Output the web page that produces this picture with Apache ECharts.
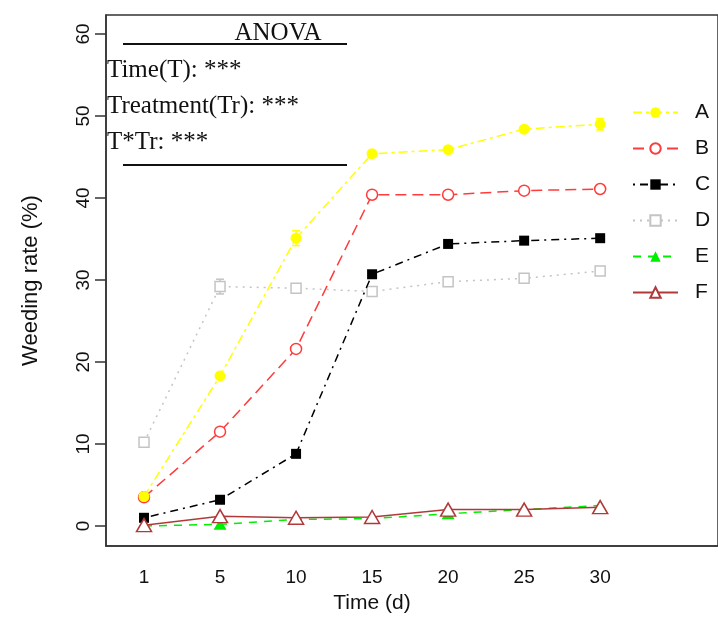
<!DOCTYPE html>
<html>
<head>
<meta charset="utf-8">
<script src="https://cdn.jsdelivr.net/npm/echarts@6/dist/echarts.min.js"></script>
<style>
  html, body { margin: 0; padding: 0; background: #fff; }
  #chart { width: 718px; height: 621px; }
</style>
</head>
<body>
<div id="chart"></div>
<script>
// 时间（天）
var categories = ['1', '5', '10', '15', '20', '25', '30'];
var yTicks = [0, 10, 20, 30, 40, 50, 60];

// 各处理的除草率 (%)
var seriesA = [3.6, 18.3, 35.1, 45.4, 45.9, 48.4, 49.0];
var seriesB = [3.5, 11.5, 21.6, 40.4, 40.4, 40.9, 41.1];
var seriesC = [1.0, 3.2, 8.8, 30.7, 34.4, 34.8, 35.1];
var seriesD = [10.2, 29.2, 29.0, 28.6, 29.8, 30.2, 31.1];
var seriesE = [0.0, 0.2, 0.8, 0.9, 1.5, 2.0, 2.5];
var seriesF = [0.1, 1.2, 1.0, 1.1, 2.0, 2.0, 2.3];

// 误差棒（只有看得见的几处）
var errA = [0, 0, 0.9, 0, 0, 0, 0.7];
var errD = [0, 0.9, 0, 0, 0, 0, 0];

var chart = echarts.init(document.getElementById('chart'));

function pairs(arr) {
  return arr.map(function (v, i) { return [i, v]; });
}

function makeLine(name, data, color, dash, symbol, size, filled, z) {
  return {
    name: name,
    type: 'line',
    data: pairs(data),
    symbol: symbol,
    symbolSize: size,
    z: z,
    lineStyle: { color: color, width: 1.5, type: dash },
    itemStyle: {
      color: filled ? color : '#fff',
      borderColor: color,
      borderWidth: filled ? 0 : 1.5
    }
  };
}

function errorBars(name, values, errs, color) {
  var data = [];
  values.forEach(function (v, i) {
    if (errs[i] > 0) data.push([i, v - errs[i], v + errs[i]]);
  });
  return {
    type: 'custom',
    name: name + '_err',
    data: data,
    z: 1,
    renderItem: function (params, api) {
      var lo = api.coord([api.value(0), api.value(1)]);
      var hi = api.coord([api.value(0), api.value(2)]);
      var w = 4;
      var st = { stroke: color, lineWidth: 1.5 };
      return {
        type: 'group',
        children: [
          { type: 'line', shape: { x1: lo[0], y1: lo[1], x2: hi[0], y2: hi[1] }, style: st },
          { type: 'line', shape: { x1: lo[0] - w, y1: lo[1], x2: lo[0] + w, y2: lo[1] }, style: st },
          { type: 'line', shape: { x1: hi[0] - w, y1: hi[1], x2: hi[0] + w, y2: hi[1] }, style: st }
        ]
      };
    }
  };
}

var serif = "'Liberation Serif', 'Times New Roman', serif";
var sans = "'Liberation Sans', Arial, sans-serif";

var option = {
  animation: false,
  backgroundColor: '#fff',
  grid: {
    left: 106, top: 15, right: -4, bottom: 75,
    show: true, borderColor: '#333', borderWidth: 1.5
  },
  legend: {
    orient: 'vertical',
    left: 627,
    top: 97,
    itemWidth: 45,
    itemHeight: 13,
    itemGap: 15,
    data: ['A', 'B', 'C', 'D', 'E', 'F'],
    textStyle: { fontSize: 21, color: '#111', fontFamily: sans, padding: [0, 0, 0, 12] }
  },
  xAxis: {
    type: 'value',
    min: -0.5,
    max: 7.55,
    splitLine: { show: false },
    axisTick: { show: false },
    axisLine: { show: true, onZero: false, lineStyle: { color: '#333', width: 1.5 } },
    axisLabel: {
      customValues: [0, 1, 2, 3, 4, 5, 6],
      formatter: function (v) { return categories[Math.round(v)]; },
      margin: 22,
      fontSize: 19,
      color: '#111',
      fontFamily: sans
    }
  },
  yAxis: {
    type: 'value',
    min: -2.44,
    max: 62.32,
    name: 'Weeding rate (%)',
    nameLocation: 'middle',
    nameGap: 64,
    nameTextStyle: { fontSize: 22, color: '#111', fontFamily: sans },
    splitLine: { show: false },
    axisLine: { show: true, onZero: false, lineStyle: { color: '#333', width: 1.5 } },
    axisTick: {
      show: true,
      customValues: yTicks,
      length: 11,
      lineStyle: { color: '#333', width: 1.5 }
    },
    axisLabel: {
      customValues: yTicks,
      rotate: 90,
      margin: 13,
      fontSize: 19,
      color: '#111',
      fontFamily: sans
    }
  },
  graphic: [
    { type: 'text', x: 278, y: 33,
      style: { text: 'ANOVA', fill: '#111', font: '25px ' + serif, textAlign: 'center', textVerticalAlign: 'middle' } },
    { type: 'line', shape: { x1: 123, y1: 44, x2: 347, y2: 44 }, style: { stroke: '#111', lineWidth: 2 } },
    { type: 'text', x: 107, y: 70,
      style: { text: 'Time(T): ***', fill: '#111', font: '25px ' + serif, textVerticalAlign: 'middle' } },
    { type: 'text', x: 107, y: 106,
      style: { text: 'Treatment(Tr): ***', fill: '#111', font: '25px ' + serif, textVerticalAlign: 'middle' } },
    { type: 'text', x: 107, y: 142,
      style: { text: 'T*Tr: ***', fill: '#111', font: '25px ' + serif, textVerticalAlign: 'middle' } },
    { type: 'line', shape: { x1: 123, y1: 165, x2: 347, y2: 165 }, style: { stroke: '#111', lineWidth: 2 } },
    { type: 'text', x: 372, y: 603,
      style: { text: 'Time (d)', fill: '#111', font: '21px ' + sans, textAlign: 'center', textVerticalAlign: 'middle' } }
  ],
  series: [
    makeLine('D', seriesD, '#c4c4c4', [2, 5], 'rect', 10, false, 2),
    makeLine('C', seriesC, '#000000', [2, 5, 8, 5], 'rect', 10, true, 3),
    makeLine('B', seriesB, '#ff3b3b', [11, 6], 'circle', 11, false, 4),
    makeLine('A', seriesA, '#ffff00', [9, 4, 3, 4], 'circle', 11, true, 5),
    makeLine('E', seriesE, '#00ee00', [8, 7], 'triangle', [13, 11], true, 6),
    makeLine('F', seriesF, '#b03a3a', 'solid', 'triangle', [15, 13], false, 7),
    errorBars('A', seriesA, errA, '#ffff00'),
    errorBars('D', seriesD, errD, '#c4c4c4')
  ]
};

chart.setOption(option);
</script>
</body>
</html>
